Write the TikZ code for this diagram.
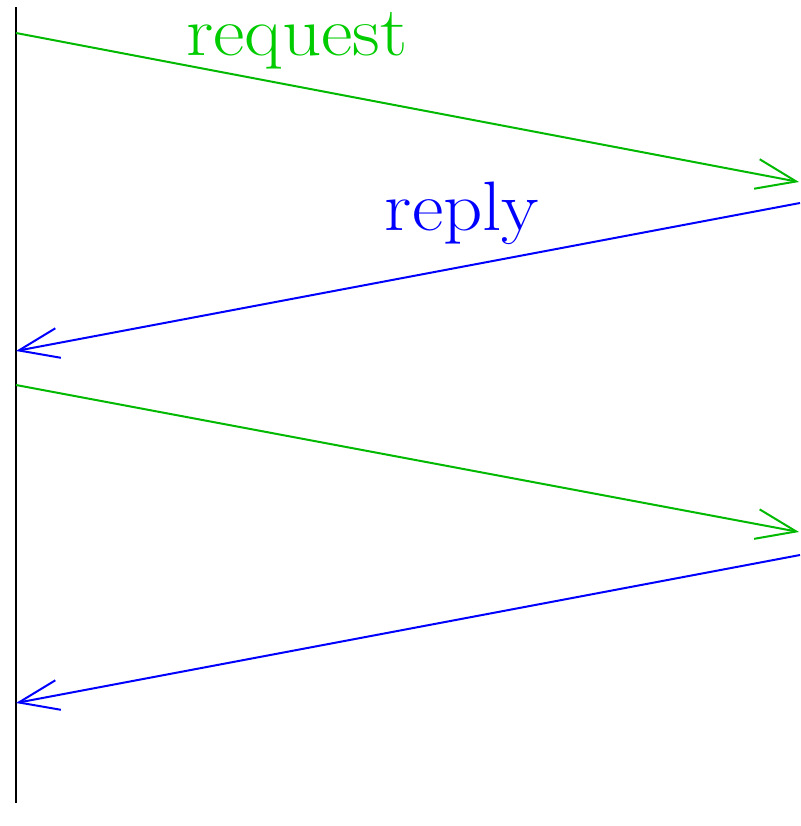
\documentclass[tikz,border=0pt]{standalone}
\usetikzlibrary{arrows.meta}
\definecolor{reqgreen}{RGB}{0,185,0}
\definecolor{reqtext}{RGB}{0,204,0}
\definecolor{repblue}{RGB}{0,0,255}
\begin{document}
\begin{tikzpicture}[x=1pt,y=-1pt,
  msg/.style={line width=2pt,-{Straight Barb[length=40pt,width=30pt,line width=2pt]}},
  lbl/.style={font=\fontsize{70}{74}\selectfont,anchor=base,inner sep=0pt,xscale=1.1}]
\useasboundingbox (0,0) rectangle (800,826);
\coordinate (top) at (16,7);
\coordinate (bot) at (16,803);
\coordinate (c1) at (16,33);
\coordinate (s1) at (799,182);
\coordinate (s2) at (800,203);
\coordinate (c2) at (16,351);
\coordinate (c3) at (16,385);
\coordinate (s3) at (799,532);
\coordinate (s4) at (800,555);
\coordinate (c4) at (16,703);
\draw[line width=2pt] (top) -- (bot);
\draw[msg,reqgreen] (c1) -- (s1);
\draw[msg,repblue] (s2) -- (c2);
\draw[msg,reqgreen] (c3) -- (s3);
\draw[msg,repblue] (s4) -- (c4);
\node[lbl,text=reqtext] (req) at (297,56) {request};
\node[lbl,text=repblue] (rep) at (462,230) {reply};
\end{tikzpicture}
\end{document}
